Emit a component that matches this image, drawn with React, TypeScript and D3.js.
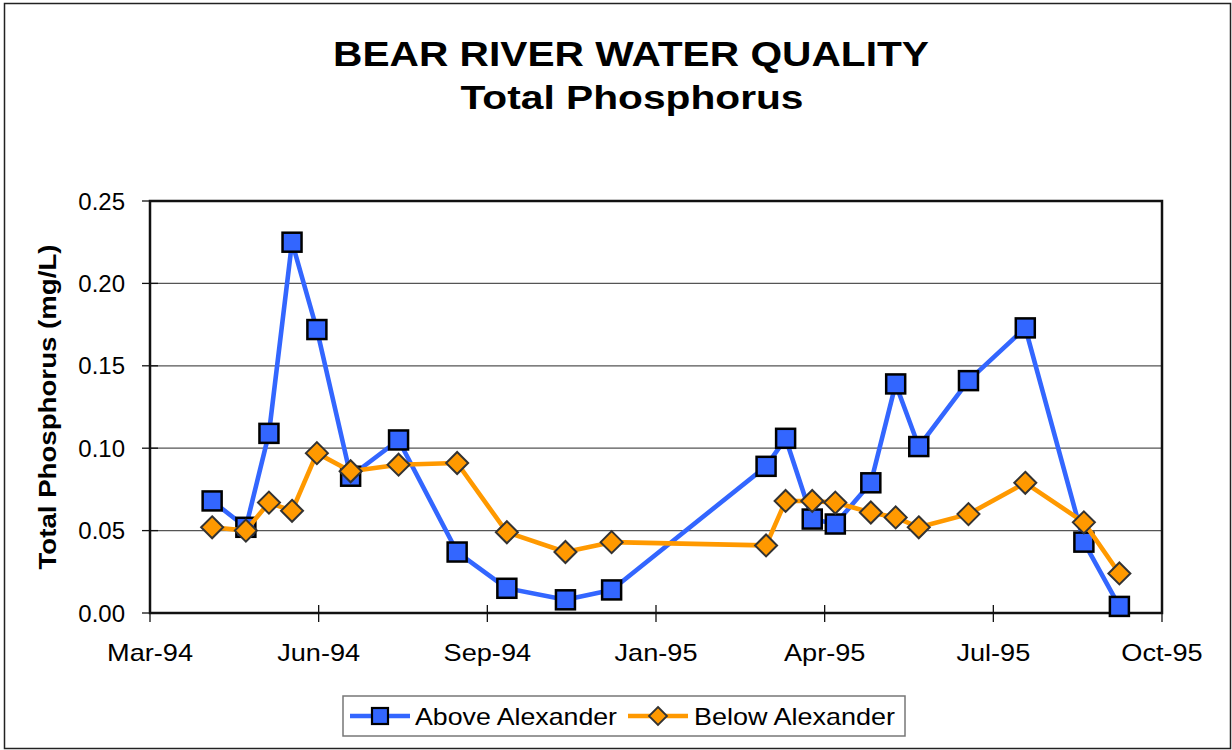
import React from "react";
import * as d3 from "d3";

const sampleDates = [
  "1994-04-27", "1994-05-16", "1994-05-29", "1994-06-11", "1994-06-25", "1994-07-14",
  "1994-08-10", "1994-09-12", "1994-10-10", "1994-11-12", "1994-12-08", "1995-03-05",
  "1995-03-16", "1995-03-31", "1995-04-13", "1995-05-03", "1995-05-17", "1995-05-30",
  "1995-06-27", "1995-07-29", "1995-08-31", "1995-09-20",
];
const aboveAlexander = [
  0.068, 0.052, 0.109, 0.225, 0.172, 0.083, 0.105, 0.037, 0.015, 0.008, 0.014, 0.089,
  0.106, 0.057, 0.054, 0.079, 0.139, 0.101, 0.141, 0.173, 0.043, 0.004,
];
const belowAlexander = [
  0.052, 0.050, 0.067, 0.062, 0.097, 0.086, 0.090, 0.091, 0.049, 0.037, 0.043, 0.041,
  0.068, 0.068, 0.067, 0.061, 0.058, 0.052, 0.060, 0.079, 0.055, 0.024,
];
const yTicks = [0, 0.05, 0.1, 0.15, 0.2, 0.25];
const axisStart = "1994-03-23";
const tickStepDays = 95;
const tickCount = 7;
const seriesNames = ["Above Alexander", "Below Alexander"];
const titleLines = ["BEAR RIVER WATER QUALITY", "Total Phosphorus"];
const yTitle = "Total Phosphorus (mg/L)";

const W = 1232;
const H = 750;
const plot = { left: 150, right: 1162, top: 201, bottom: 613 };
const FONT = "'Liberation Sans', Arial, sans-serif";
const BLUE = "#3366FF";
const ORANGE = "#FF9900";

export default function App() {
  const parse = d3.timeParse("%Y-%m-%d");
  const start = parse(axisStart) as Date;
  const xTicks = d3.range(tickCount).map((i) => d3.timeDay.offset(start, tickStepDays * i));
  const x = d3.scaleTime().domain([xTicks[0], xTicks[xTicks.length - 1]]).range([plot.left, plot.right]);
  const y = d3.scaleLinear().domain([0, 0.25]).range([plot.bottom, plot.top]);
  const fmt = d3.timeFormat("%b-%y");
  const dates = sampleDates.map((s) => parse(s) as Date);

  const blue = dates.map((d, i) => [x(d), y(aboveAlexander[i])] as [number, number]);
  const orange = dates.map((d, i) => [x(d), y(belowAlexander[i])] as [number, number]);
  const line = d3.line();

  const sq = 9.5;
  const dm = 11;
  const square = (cx: number, cy: number, k: number) => (
    <rect key={k} x={cx - sq} y={cy - sq} width={sq * 2} height={sq * 2} fill={BLUE} stroke="#000" strokeWidth={2.5} />
  );
  const diamond = (cx: number, cy: number, k: number) => (
    <path key={k} d={`M${cx},${cy - dm}L${cx + dm},${cy}L${cx},${cy + dm}L${cx - dm},${cy}Z`} fill={ORANGE} stroke="#333" strokeWidth={2} />
  );

  const legY = 716;
  return (
    <svg width={W} height={H} style={{ position: "absolute", left: 0, top: 0, background: "#fff" }} fontFamily={FONT}>
      <rect x={0} y={0} width={W} height={H} fill="#fff" />
      <rect x={4.5} y={3.5} width={1226} height={745} fill="none" stroke="#222" strokeWidth={1.5} />
      <text x={631} y={66} textAnchor="middle" fontSize={35} fontWeight="bold" textLength={596} lengthAdjust="spacingAndGlyphs">{titleLines[0]}</text>
      <text x={632} y={109} textAnchor="middle" fontSize={34} fontWeight="bold" textLength={343} lengthAdjust="spacingAndGlyphs">{titleLines[1]}</text>

      {yTicks.slice(1, -1).map((t) => (
        <line key={t} x1={plot.left} x2={plot.right} y1={y(t)} y2={y(t)} stroke="#555" strokeWidth={1.3} />
      ))}
      <rect x={plot.left} y={plot.top} width={plot.right - plot.left} height={plot.bottom - plot.top} fill="none" stroke="#111" strokeWidth={2.5} />

      {yTicks.map((t) => (
        <g key={t}>
          <line x1={plot.left - 8} x2={plot.left + 8} y1={y(t)} y2={y(t)} stroke="#111" strokeWidth={1.3} />
          <text x={125} y={y(t)} dy="0.36em" textAnchor="end" fontSize={24}>{t.toFixed(2)}</text>
        </g>
      ))}
      {xTicks.map((t, i) => (
        <g key={i}>
          <line x1={x(t)} x2={x(t)} y1={plot.bottom - 8} y2={plot.bottom + 9} stroke="#111" strokeWidth={1.3} />
          <g transform={`translate(${x(t)},661) scale(1.18,1)`}>
            <text x={0} y={0} textAnchor="middle" fontSize={23}>{fmt(t)}</text>
          </g>
        </g>
      ))}
      <text transform={`translate(56,${407}) rotate(-90)`} textAnchor="middle" fontSize={24} fontWeight="bold" textLength={325} lengthAdjust="spacingAndGlyphs">{yTitle}</text>

      <path d={line(blue) || ""} fill="none" stroke={BLUE} strokeWidth={4.6} strokeLinejoin="round" />
      {blue.map(([cx, cy], i) => square(cx, cy, i))}
      <path d={line(orange) || ""} fill="none" stroke={ORANGE} strokeWidth={4.6} strokeLinejoin="round" />
      {orange.map(([cx, cy], i) => diamond(cx, cy, i))}

      <rect x={343} y={696} width={562} height={40} fill="#fff" stroke="#777" strokeWidth={1.5} />
      <line x1={350} x2={410} y1={legY} y2={legY} stroke={BLUE} strokeWidth={4.6} />
      <rect x={372} y={legY - 8} width={16} height={16} fill={BLUE} stroke="#000" strokeWidth={2.2} />
      <text x={415} y={legY} dy="0.36em" fontSize={24} textLength={202} lengthAdjust="spacingAndGlyphs">{seriesNames[0]}</text>
      <line x1={628} x2={688} y1={legY} y2={legY} stroke={ORANGE} strokeWidth={4.6} />
      <path d={`M658,${legY - 9}L667,${legY}L658,${legY + 9}L649,${legY}Z`} fill={ORANGE} stroke="#333" strokeWidth={1.8} />
      <text x={694} y={legY} dy="0.36em" fontSize={24} textLength={201} lengthAdjust="spacingAndGlyphs">{seriesNames[1]}</text>
    </svg>
  );
}
